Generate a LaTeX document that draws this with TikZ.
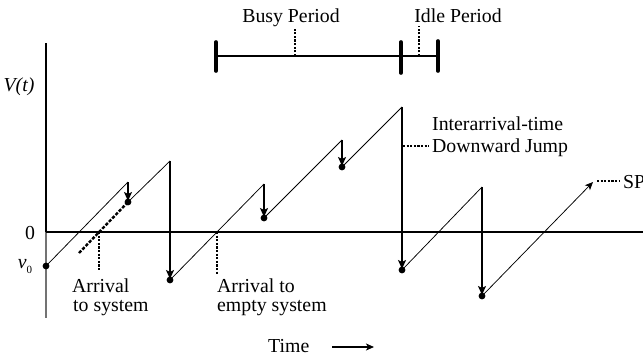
\documentclass[tikz,border=0pt]{standalone}
\usepackage{fontspec}
\setmainfont{Liberation Serif}
\usetikzlibrary{arrows.meta}
\begin{document}
\begin{tikzpicture}[x=1pt,y=-1pt,
  lbl/.style={font=\fontsize{19.8}{22}\selectfont, inner sep=0pt},
  saw/.style={line width=0.75pt},
  jump/.style={line width=1.5pt,-{Stealth[length=9pt,width=8pt,inset=2pt]},shorten >=1pt},
  axis/.style={line width=1.5pt},
  dots/.style={line width=2.4pt,dash pattern=on 2.2pt off 1.4pt},
  dashext/.style={line width=2.4pt,dash pattern=on 3.2pt off 1.6pt},
  tick/.style={line width=3.6pt,line cap=round},
  dotmark/.style={circle,fill=black,inner sep=0pt,minimum size=6.8pt}
]
\useasboundingbox (0,0) rectangle (643,356);
\clip (0,0) rectangle (643,356);

% axes
\coordinate (ytop) at (46,43);
\coordinate (yzero) at (46,232);
\coordinate (ybot) at (46,318);
\coordinate (xend) at (643,232);
\draw[axis] (ytop) -- (yzero);
\draw[line width=1.2pt,black!55] (yzero) -- (ybot);
\draw[axis] (yzero) -- (xend);

% sawtooth points
\coordinate (v0) at (46,266);
\coordinate (p1) at (128,182); \coordinate (d1) at (128,202);
\coordinate (p2) at (170,161); \coordinate (d2) at (170,280);
\coordinate (p3) at (264,184); \coordinate (d3) at (264,218);
\coordinate (p4) at (342,140); \coordinate (d4) at (342,167);
\coordinate (p5) at (402,107); \coordinate (d5) at (402,270);
\coordinate (p6) at (482,187); \coordinate (d6) at (482,296);
\coordinate (pe) at (593,182);

\draw[saw] (v0) -- (p1);
\draw[saw] (d1) -- (p2);
\draw[saw] (d2) -- (p3);
\draw[saw] (d3) -- (p4);
\draw[saw] (d4) -- (p5);
\draw[saw] (d5) -- (p6);
\draw[saw,-{Stealth[length=8pt,width=7pt,inset=2pt]}] (d6) -- (pe);

\draw[jump] (p1) -- (d1);
\draw[jump] (p2) -- (d2);
\draw[jump] (p3) -- (d3);
\draw[jump] (p4) -- (d4);
\draw[jump] (p5) -- (d5);
\draw[jump] (p6) -- (d6);

\foreach \d in {v0,d1,d2,d3,d4,d5,d6} \node[dotmark] at (\d) {};

% arrival markers
\coordinate (ext) at (79,253);
\coordinate (a1) at (99,232); \coordinate (a1b) at (99,270);
\coordinate (a2) at (217,232); \coordinate (a2b) at (217,274);
\draw[dashext] (ext) -- (d1);
\draw[dots] (a1) -- (a1b);
\draw[dots] (a2) -- (a2b);

% busy / idle bar
\coordinate (bl) at (216,56); \coordinate (bm) at (401,56); \coordinate (br) at (438,56);
\draw[line width=1.3pt] (bl) -- (br);
\draw[tick] (216,42) -- (216,71);
\draw[tick] (401,42) -- (401,73);
\draw[tick] (438,41) -- (438,71);
\coordinate (busyc) at (295,56); \coordinate (busyt) at (295,29);
\coordinate (idlec) at (419,56); \coordinate (idlet) at (419,26);
\draw[dots] (busyc) -- (busyt);
\draw[dots] (idlec) -- (idlet);

% labels
\node[lbl,anchor=base] (busy) at (291,22) {Busy Period};
\node[lbl,anchor=base] (idle) at (458,22) {Idle Period};
\node[lbl,anchor=base] (vt) at (19,91) {\textit{V(t)}};
\node[lbl,anchor=base] (zero) at (30,239) {0};
\node[lbl,anchor=base] (vzero) at (25,268) {\textit{v}\raisebox{-5pt}{\fontsize{11}{12}\selectfont 0}};
\node[lbl,anchor=base west] (arr1) at (72,292) {Arrival};
\node[lbl,anchor=base west] (arr1b) at (73,311) {to system};
\node[lbl,anchor=base west] (arr2) at (217,292) {Arrival to};
\node[lbl,anchor=base west] (arr2b) at (217,311) {empty system};
\node[lbl,anchor=base west] (inter) at (432,130) {Interarrival-time};
\node[lbl,anchor=base west] (down) at (432,152) {Downward Jump};
\node[lbl,anchor=base west] (sp) at (623,188) {SP};
\node[lbl,anchor=base west] (time) at (268,352) {Time};

\coordinate (jmid) at (403,146);
\draw[dots] (jmid) -- ([xshift=-3pt]down.west |- jmid);
\coordinate (spl) at (597,181);
\draw[dots] (spl) -- ([xshift=-3pt]sp.west |- spl);
\coordinate (ta) at (332,347); \coordinate (tb) at (374,347);
\draw[line width=1.2pt,-{Stealth[length=8pt,width=7pt,inset=2pt]}] (ta) -- (tb);
\end{tikzpicture}
\end{document}
